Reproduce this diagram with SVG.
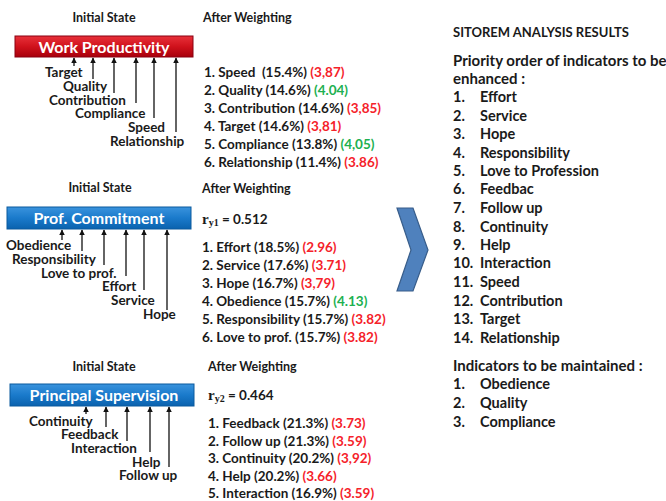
<svg xmlns="http://www.w3.org/2000/svg" width="666" height="501" viewBox="0 0 666 501">
<defs>
<linearGradient id="gRed" x1="0" y1="0" x2="0" y2="1">
<stop offset="0" stop-color="#E8313A"/><stop offset="0.5" stop-color="#D0121C"/><stop offset="1" stop-color="#A8000C"/>
</linearGradient>
<linearGradient id="gBlue" x1="0" y1="0" x2="0" y2="1">
<stop offset="0" stop-color="#3A93DD"/><stop offset="0.5" stop-color="#1A7ACB"/><stop offset="1" stop-color="#0A62AE"/>
</linearGradient>
<marker id="ah" viewBox="0 0 10 10" refX="9" refY="5" markerWidth="5.5" markerHeight="5.5" orient="auto" markerUnits="userSpaceOnUse">
<path d="M0,0 L10,5 L0,10 Z" fill="#111"/>
</marker>
<style>
text{font-family:Lato,"Open Sans","Liberation Sans",sans-serif;font-weight:bold;fill:#1a1a1a}
.hd{font-size:12.5px}
.lb{font-size:13.5px}
.li{font-size:13.5px}
.bt{font-size:16px;fill:#fff}
.r{fill:#F5222A}
.g{fill:#20B050}
.rh{font-size:13px}
.rp{font-size:15px}
.ri{font-size:14.5px}
.conn line{stroke:#111;stroke-width:1.3;marker-end:url(#ah)}
.sf{font-family:"Liberation Serif",serif}
</style>
</defs>

<!-- Section 1 -->
<g id="wp-node">
<text class="hd" x="104" y="22" text-anchor="middle">Initial State</text>
<rect x="15" y="36" width="178" height="21" fill="url(#gRed)" stroke="#8A0010" stroke-width="1"/>
<text class="bt" x="104" y="52.5" text-anchor="middle">Work Productivity</text>
</g>
<g id="wp-labels">
<text class="lb" x="45" y="77">Target</text>
<text class="lb" x="63" y="91">Quality</text>
<text class="lb" x="49" y="105">Contribution</text>
<text class="lb" x="75" y="118">Compliance</text>
<text class="lb" x="128" y="132">Speed</text>
<text class="lb" x="110" y="146">Relationship</text>
</g>
<g id="wp-weight">
<text class="hd" x="203" y="22">After Weighting</text>
<text class="li" x="204" y="77">1. Speed&#160; (15.4%) <tspan class="r">(3,87)</tspan></text>
<text class="li" x="204" y="95">2. Quality (14.6%) <tspan class="g">(4.04)</tspan></text>
<text class="li" x="204" y="113">3. Contribution (14.6%) <tspan class="r">(3,85)</tspan></text>
<text class="li" x="204" y="131">4. Target (14.6%) <tspan class="r">(3,81)</tspan></text>
<text class="li" x="204" y="149">5. Compliance (13.8%) <tspan class="g">(4,05)</tspan></text>
<text class="li" x="204" y="167">6. Relationship (11.4%) <tspan class="r">(3.86)</tspan></text>
</g>

<!-- Section 2 -->
<g id="pc-node">
<text class="hd" x="100" y="192" text-anchor="middle">Initial State</text>
<rect x="7" y="207" width="184" height="22" fill="url(#gBlue)" stroke="#0B5A9E" stroke-width="1"/>
<text class="bt" x="99" y="223.5" text-anchor="middle">Prof. Commitment</text>
</g>
<g id="pc-labels">
<text class="lb" x="6" y="250">Obedience</text>
<text class="lb" x="12" y="264">Responsibility</text>
<text class="lb" x="41" y="278">Love to prof.</text>
<text class="lb" x="102" y="291">Effort</text>
<text class="lb" x="111" y="305">Service</text>
<text class="lb" x="143" y="319">Hope</text>
</g>
<g id="pc-weight">
<text class="hd" x="202" y="193">After Weighting</text>
<text class="li" x="202" y="223.5"><tspan class="sf" font-size="15">r</tspan><tspan class="sf" font-size="10" dy="2">y1</tspan><tspan dy="-2"> = 0.512</tspan></text>
<text class="li" x="202" y="251.5">1. Effort (18.5%) <tspan class="r">(2.96)</tspan></text>
<text class="li" x="202" y="269.5">2. Service (17.6%) <tspan class="r">(3.71)</tspan></text>
<text class="li" x="202" y="287.5">3. Hope (16.7%) <tspan class="r">(3,79)</tspan></text>
<text class="li" x="202" y="305.5">4. Obedience (15.7%) <tspan class="g">(4.13)</tspan></text>
<text class="li" x="202" y="323.5">5. Responsibility (15.7%) <tspan class="r">(3.82)</tspan></text>
<text class="li" x="202" y="341.5">6. Love to prof. (15.7%) <tspan class="r">(3.82)</tspan></text>
</g>

<!-- Section 3 -->
<g id="ps-node">
<text class="hd" x="104" y="371" text-anchor="middle">Initial State</text>
<rect x="10" y="384" width="184" height="22" fill="url(#gBlue)" stroke="#0B5A9E" stroke-width="1"/>
<text class="bt" x="104" y="400.5" text-anchor="middle">Principal Supervision</text>
</g>
<g id="ps-labels">
<text class="lb" x="29" y="426">Continuity</text>
<text class="lb" x="61" y="439">Feedback</text>
<text class="lb" x="71" y="453">Interaction</text>
<text class="lb" x="132" y="467">Help</text>
<text class="lb" x="119" y="480">Follow up</text>
</g>
<g id="ps-weight">
<text class="hd" x="208" y="371">After Weighting</text>
<text class="li" x="208" y="399.5"><tspan class="sf" font-size="15">r</tspan><tspan class="sf" font-size="10" dy="2">y2</tspan><tspan dy="-2"> = 0.464</tspan></text>
<text class="li" x="208" y="427.5">1. Feedback (21.3%) <tspan class="r">(3.73)</tspan></text>
<text class="li" x="208" y="445.5">2. Follow up (21.3%) <tspan class="r">(3.59)</tspan></text>
<text class="li" x="208" y="462.5">3. Continuity (20.2%) <tspan class="r">(3,92)</tspan></text>
<text class="li" x="208" y="480.5">4. Help (20.2%) <tspan class="r">(3.66)</tspan></text>
<text class="li" x="208" y="497.5">5. Interaction (16.9%) <tspan class="r">(3.59)</tspan></text>
</g>

<!-- Chevron -->
<g id="chevron">
<polygon points="397,208 413,208 428,250 413,291 397,291 411,250" fill="#4F81BD" stroke="#385D8A" stroke-width="1.2"/>
</g>

<!-- Connectors -->
<g id="connectors" class="conn">
<line x1="74" y1="66" x2="74" y2="58"/>
<line x1="93" y1="79" x2="93" y2="58"/>
<line x1="114" y1="93" x2="114" y2="58"/>
<line x1="136" y1="103" x2="136" y2="58"/>
<line x1="154" y1="118" x2="154" y2="58"/>
<line x1="176" y1="132" x2="176" y2="58"/>

<line x1="62" y1="240" x2="62" y2="230"/>
<line x1="82" y1="251" x2="82" y2="230"/>
<line x1="104" y1="265" x2="104" y2="230"/>
<line x1="126" y1="276" x2="126" y2="230"/>
<line x1="144" y1="290" x2="144" y2="230"/>
<line x1="167" y1="310" x2="167" y2="230"/>

<line x1="86" y1="414" x2="86" y2="407"/>
<line x1="106" y1="427" x2="106" y2="407"/>
<line x1="127" y1="441" x2="127" y2="407"/>
<line x1="150" y1="452" x2="150" y2="407"/>
<line x1="169" y1="467" x2="169" y2="407"/>
</g>

<!-- Right panel -->
<g id="results">
<text class="rh" x="453" y="36.5">SITOREM ANALYSIS RESULTS</text>
<text class="rp" x="453" y="66">Priority order of indicators to be</text>
<text class="rp" x="453" y="84">enhanced :</text>
<g class="ri">
<text x="453" y="102">1.</text><text x="480" y="102">Effort</text>
<text x="453" y="121">2.</text><text x="480" y="121">Service</text>
<text x="453" y="139">3.</text><text x="480" y="139">Hope</text>
<text x="453" y="158">4.</text><text x="480" y="158">Responsibility</text>
<text x="453" y="176">5.</text><text x="480" y="176">Love to Profession</text>
<text x="453" y="194">6.</text><text x="480" y="194">Feedbac</text>
<text x="453" y="213">7.</text><text x="480" y="213">Follow up</text>
<text x="453" y="232">8.</text><text x="480" y="232">Continuity</text>
<text x="453" y="250">9.</text><text x="480" y="250">Help</text>
<text x="453" y="268">10.</text><text x="480" y="268">Interaction</text>
<text x="453" y="287">11.</text><text x="480" y="287">Speed</text>
<text x="453" y="306">12.</text><text x="480" y="306">Contribution</text>
<text x="453" y="324">13.</text><text x="480" y="324">Target</text>
<text x="453" y="343">14.</text><text x="480" y="343">Relationship</text>
</g>
<text class="rp" x="453" y="371">Indicators to be maintained :</text>
<g class="ri">
<text x="453" y="389">1.</text><text x="480" y="389">Obedience</text>
<text x="453" y="408">2.</text><text x="480" y="408">Quality</text>
<text x="453" y="427">3.</text><text x="480" y="427">Compliance</text>
</g>
</g>
</svg>
